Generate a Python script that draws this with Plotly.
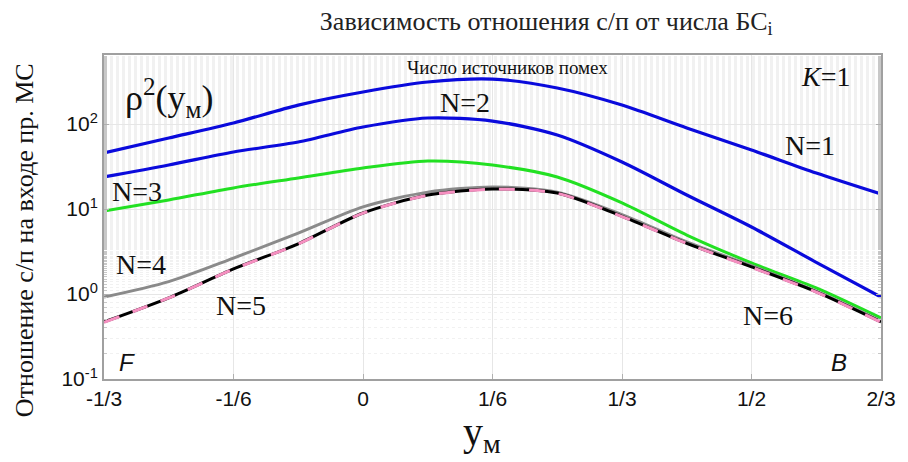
import plotly.graph_objects as go

# x positions (y_M), in steps of 1/12 from -1/3 to 2/3
x_vals = [-4/12, -3/12, -2/12, -1/12, 0, 1/12, 2/12, 3/12, 4/12, 5/12, 6/12, 7/12, 8/12]

n1 = [45.6, 68.4, 102.8, 167, 238, 312, 338, 265, 167, 89.7, 49.4, 26.5, 15.0]
n2 = [23.8, 32.9, 46.9, 61.4, 92.2, 117.7, 108.4, 74.2, 35.7, 14.6, 6.14, 2.36, 0.92]
n3 = [9.47, 12.8, 17.7, 23.2, 30.4, 36.7, 32.9, 23.8, 11.8, 4.94, 2.32, 1.18, 0.523]
n4 = [0.92, 1.40, 2.65, 5.2, 10.6, 15.8, 18.2, 15.8, 8.60, 4.1, 2.15, 1.08, 0.48]
n5 = [0.469, 0.90, 1.97, 3.9, 8.97, 14.6, 17.2, 15.4, 8.2, 3.95, 2.08, 1.06, 0.469]
n6 = [0.465, 0.90, 1.96, 3.88, 8.95, 14.5, 17.1, 15.3, 8.15, 3.93, 2.06, 1.05, 0.465]

x_tickvals = [-1/3, -1/6, 0, 1/6, 1/3, 1/2, 2/3]
x_ticktext = ["-1/3", "-1/6", "0", "1/6", "1/3", "1/2", "2/3"]
y_tickvals = [0.1, 1, 10, 100]
y_ticktext = ["10<sup>-1</sup>", "10<sup>0</sup>", "10<sup>1</sup>", "10<sup>2</sup>"]

SERIF = "Liberation Serif"
SANS = "Liberation Sans"

fig = go.Figure()
fig.add_trace(go.Scatter(x=x_vals, y=n1, mode="lines", line=dict(color="#0a0adc", width=3.2, shape="spline", smoothing=0.8), name="N=1"))
fig.add_trace(go.Scatter(x=x_vals, y=n2, mode="lines", line=dict(color="#0a0adc", width=3.2, shape="spline", smoothing=0.8), name="N=2"))
fig.add_trace(go.Scatter(x=x_vals, y=n3, mode="lines", line=dict(color="#22e022", width=3, shape="spline", smoothing=0.8), name="N=3"))
fig.add_trace(go.Scatter(x=x_vals, y=n4, mode="lines", line=dict(color="#8a8a8a", width=3, shape="spline", smoothing=0.8), name="N=4"))
fig.add_trace(go.Scatter(x=x_vals, y=n5, mode="lines", line=dict(color="#000000", width=3, shape="spline", smoothing=0.8), name="N=5"))
fig.add_trace(go.Scatter(x=x_vals, y=n6, mode="lines", line=dict(color="#f58fc0", width=3, dash="16px,14px", shape="spline", smoothing=0.8), name="N=6"))

def ann(text, x, y, size=28, family=SERIF, angle=0):
    fig.add_annotation(text=text, x=x, y=y, xref="paper", yref="paper", showarrow=False,
                       font=dict(family=family, size=size, color="#111"),
                       xanchor="center", yanchor="middle", borderpad=0, textangle=angle)

# paper coords from page pixels: plot area left=104, right=892, top=55, bottom=379
def px(xp):
    return (xp - 104) / 788
def py(yp):
    return (379 - yp) / 324

ann("ρ<sup>2</sup>(y<sub>м</sub>)", px(170), py(98), size=36)
ann("Число источников помех", px(513), py(68), size=19)
ann("N=2", px(470), py(102))
ann("<i>K</i>=1", px(836), py(77))
ann("N=1", px(820), py(145))
ann("N=3", px(137), py(191))
ann("N=4", px(142), py(264))
ann("N=5", px(243), py(305))
ann("N=6", px(777), py(315))
ann("<i>F</i>", px(127), py(362), size=24, family=SANS)
ann("<i>B</i>", px(849), py(362), size=24, family=SANS)
# axis titles
ann("Отношение с/п на входе пр. МС", px(23), py(240), size=26, angle=-90)
ann("y<sub>м</sub>", px(487), py(434), size=40)

# the page body has an 8px margin, so the figure is drawn 8px smaller and margins shifted by 8px
fig.update_layout(
    width=900, height=454,
    margin=dict(l=96, r=16, t=47, b=83),
    paper_bgcolor="white", plot_bgcolor="white",
    showlegend=False,
    title=dict(text="Зависимость отношения с/п от числа БС<sub>i</sub>", x=0.598, xanchor="center",
               y=0.972, yanchor="middle", font=dict(family=SERIF, size=26, color="#222")),
    xaxis=dict(range=[-1/3, 2/3], tickvals=x_tickvals, ticktext=x_ticktext,
               showgrid=True, gridcolor="#e6e6e6", gridwidth=1,
               showline=True, linecolor="#a0a0a0", linewidth=2, mirror=True,
               ticks="inside", ticklen=5, tickcolor="#b0b0b0",
               tickfont=dict(family=SANS, size=21, color="#111"),
               ticklabeloverflow="allow",
               zeroline=False),
    yaxis=dict(type="log", range=[-1, 2.812], tickvals=y_tickvals, ticktext=y_ticktext,
               showgrid=True, gridcolor="#e6e6e6", gridwidth=1,
               showline=True, linecolor="#a0a0a0", linewidth=2, mirror="allticks",
               ticks="inside", ticklen=5, tickcolor="#b0b0b0",
               tickfont=dict(family=SANS, size=21, color="#111"),
               minor=dict(ticks="inside", ticklen=3, tickcolor="#c8c8c8", showgrid=True,
                          gridcolor="#f1f1f1", griddash="dot"),
               zeroline=False),
)

fig.write_html("out.html", config={"displayModeBar": False})
